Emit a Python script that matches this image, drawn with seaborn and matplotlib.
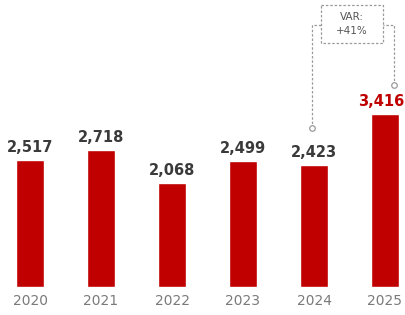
import matplotlib
matplotlib.use("Agg")
import matplotlib.pyplot as plt
import seaborn as sns
import pandas as pd

years = ["2020", "2021", "2022", "2023", "2024", "2025"]
values = [2517, 2718, 2068, 2499, 2423, 3416]
labels = ["2,517", "2,718", "2,068", "2,499", "2,423", "3,416"]
var_text = "VAR:\n+41%"

RED = "#c00000"
DARK = "#3a3a3a"
GRAY = "#7a7a7a"

sns.set_style("white")
plt.rcParams["font.family"] = ["DejaVu Sans"]

fig = plt.figure(figsize=(4.05, 3.15), dpi=100)
ax = fig.add_axes([0, 28 / 315, 1, 287 / 315])
df = pd.DataFrame({"year": years, "value": values})
sns.barplot(data=df, x="year", y="value", color=RED, saturation=1, width=0.4, ax=ax)

ymax = 5683
ax.set_ylim(0, ymax)
ax.set_xlim(-30 / 71, (405 - 30) / 71)
pxu = ymax / 287  # data units per pixel

for i, (v, lab) in enumerate(zip(values, labels)):
    last = i == len(values) - 1
    col = RED if last else DARK
    xi = i - (4 / 71 if last else 0)
    ax.text(xi, v + 5 * pxu, lab, ha="center", va="bottom", fontsize=10.5,
            fontweight="bold", color=col)

sns.despine(ax=ax, left=True, bottom=True)
ax.set_xlabel("")
ax.set_ylabel("")
ax.set_yticks([])
ax.tick_params(axis="x", length=0, pad=5, labelsize=10, labelcolor=GRAY)

# annotation connector
lc = "#9a9a9a"
xl = 4 - 2 / 71
xr = 5 + 9 / 71
y_l0 = values[4] + 37 * pxu
y_r0 = values[5] + 29 * pxu
y_h = ymax - 25 * pxu
box_l = 4 + (321 - 314) / 71
box_r = 4 + (383 - 314) / 71
box_t = ymax - 5 * pxu
box_b = ymax - 43 * pxu
kw = dict(color=lc, lw=0.9, ls=(0, (2, 1.5)))
ax.plot([xl, xl, box_l], [y_l0, y_h, y_h], **kw)
ax.plot([xr, xr, box_r], [y_r0, y_h, y_h], **kw)
ax.plot([box_l, box_r, box_r, box_l, box_l], [box_t, box_t, box_b, box_b, box_t], **kw)
ax.plot([xl, xr], [y_l0, y_r0], ls="none", marker="o", ms=4, mfc="white",
        mec=lc, mew=0.9)
ax.text((box_l + box_r) / 2, (box_t + box_b) / 2, var_text, ha="center",
        va="center", fontsize=7.5, color="#555555", linespacing=1.6)

fig.savefig("out.png", dpi=100)
